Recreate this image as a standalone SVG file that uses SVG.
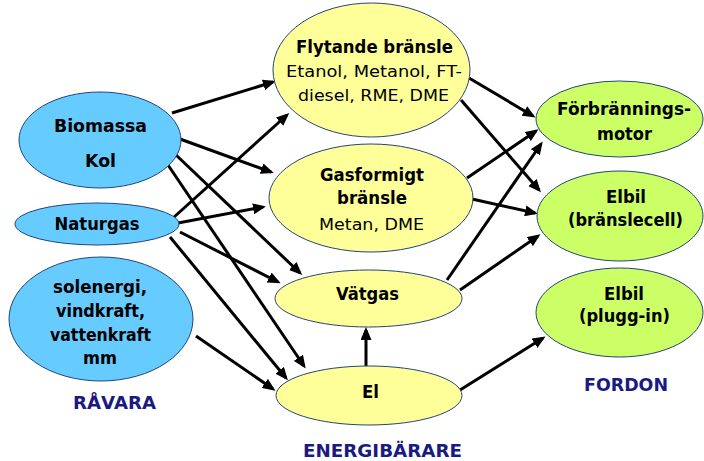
<svg xmlns="http://www.w3.org/2000/svg" width="704" height="461" viewBox="0 0 704 461">
  <style>
    .raw { fill: #66CCFF; stroke: #22447a; stroke-width: 1; }
    .carrier { fill: #FFFF99; stroke: #22447a; stroke-width: 1; }
    .vehicle { fill: #CCFF66; stroke: #22447a; stroke-width: 1; }
    text { font-family: "DejaVu Sans", Verdana, sans-serif; font-size: 16px; text-anchor: middle; fill: #000; }
    .b { font-weight: bold; font-size: 17px; }
    .cap { font-weight: bold; font-size: 17.5px; fill: #1a1a80; }
    .edge line { stroke: #000; stroke-width: 3; marker-end: url(#head); }
  </style>
  <defs>
    <marker id="head" markerUnits="userSpaceOnUse" markerWidth="13" markerHeight="11" viewBox="0 0 13 11" refX="10" refY="5.5" orient="auto">
      <path d="M0,0 L13,5.5 L0,11 Z" fill="#000"/>
    </marker>
  </defs>
  <rect width="704" height="461" fill="#fff"/>

  <!-- connectors -->
  <g id="connectors" class="edge">
    <line x1="172" y1="113" x2="273" y2="82"/>
    <line x1="180" y1="139" x2="271" y2="172"/>
    <line x1="176" y1="155" x2="300" y2="273"/>
    <line x1="168" y1="165" x2="304" y2="366"/>
    <line x1="173" y1="218" x2="287" y2="115"/>
    <line x1="178" y1="223" x2="263" y2="207"/>
    <line x1="180" y1="232" x2="278" y2="282"/>
    <line x1="170" y1="237" x2="286" y2="378"/>
    <line x1="196" y1="336" x2="273" y2="389"/>
    <line x1="366" y1="366" x2="366" y2="330"/>
    <line x1="469" y1="78" x2="533" y2="116"/>
    <line x1="461" y1="100" x2="539" y2="190"/>
    <line x1="467" y1="178" x2="536" y2="131"/>
    <line x1="472" y1="199" x2="535" y2="213"/>
    <line x1="447" y1="280" x2="541" y2="144"/>
    <line x1="460" y1="290" x2="538" y2="236"/>
    <line x1="460" y1="390" x2="543" y2="338"/>
  </g>

  <!-- raw materials -->
  <g id="biomassa">
    <ellipse class="raw" cx="100" cy="140" rx="81" ry="48"/>
    <text class="b" x="100.5" y="132" textLength="93" lengthAdjust="spacingAndGlyphs">Biomassa</text>
    <text class="b" x="100.5" y="167" textLength="31" lengthAdjust="spacingAndGlyphs">Kol</text>
  </g>
  <g id="naturgas">
    <ellipse class="raw" cx="97" cy="224" rx="82" ry="21"/>
    <text class="b" x="97" y="230" textLength="85" lengthAdjust="spacingAndGlyphs">Naturgas</text>
  </g>
  <g id="fornybart">
    <ellipse class="raw" cx="101" cy="319" rx="92" ry="62"/>
    <text class="b" x="100" y="293" textLength="94" lengthAdjust="spacingAndGlyphs">solenergi,</text>
    <text class="b" x="100.5" y="317" textLength="89" lengthAdjust="spacingAndGlyphs">vindkraft,</text>
    <text class="b" x="100.5" y="341" textLength="101" lengthAdjust="spacingAndGlyphs">vattenkraft</text>
    <text class="b" x="100" y="364" textLength="34" lengthAdjust="spacingAndGlyphs">mm</text>
  </g>
  <text class="cap" x="114.5" y="409" textLength="83" lengthAdjust="spacingAndGlyphs">RÅVARA</text>

  <!-- energy carriers -->
  <g id="flytande">
    <ellipse class="carrier" cx="371.5" cy="70" rx="98.5" ry="67"/>
    <text class="b" x="374.5" y="53" textLength="157" lengthAdjust="spacingAndGlyphs">Flytande bränsle</text>
    <text x="374" y="77" textLength="176" lengthAdjust="spacingAndGlyphs">Etanol, Metanol, FT-</text>
    <text x="373.5" y="101" textLength="151" lengthAdjust="spacingAndGlyphs">diesel, RME, DME</text>
  </g>
  <g id="gasformigt">
    <ellipse class="carrier" cx="371" cy="198" rx="102" ry="54"/>
    <text class="b" x="372" y="181" textLength="104" lengthAdjust="spacingAndGlyphs">Gasformigt</text>
    <text class="b" x="372" y="204" textLength="70" lengthAdjust="spacingAndGlyphs">bränsle</text>
    <text x="371.5" y="230" textLength="105" lengthAdjust="spacingAndGlyphs">Metan, DME</text>
  </g>
  <g id="vatgas">
    <ellipse class="carrier" cx="368.5" cy="298.5" rx="93.5" ry="28.5"/>
    <text class="b" x="367.5" y="300" textLength="63" lengthAdjust="spacingAndGlyphs">Vätgas</text>
  </g>
  <g id="el">
    <ellipse class="carrier" cx="369" cy="395.5" rx="93" ry="29.5"/>
    <text class="b" x="370.5" y="398" textLength="17" lengthAdjust="spacingAndGlyphs">El</text>
  </g>
  <text class="cap" x="382.5" y="457" textLength="159" lengthAdjust="spacingAndGlyphs">ENERGIBÄRARE</text>

  <!-- vehicles -->
  <g id="forbranningsmotor">
    <ellipse class="vehicle" cx="619.5" cy="119" rx="83.5" ry="38"/>
    <text class="b" x="624" y="115" textLength="134" lengthAdjust="spacingAndGlyphs">Förbrännings-</text>
    <text class="b" x="624.5" y="140" textLength="55" lengthAdjust="spacingAndGlyphs">motor</text>
  </g>
  <g id="elbil-branslecell">
    <ellipse class="vehicle" cx="620" cy="216" rx="83" ry="45"/>
    <text class="b" x="626" y="203" textLength="40" lengthAdjust="spacingAndGlyphs">Elbil</text>
    <text class="b" x="625.5" y="226" textLength="115" lengthAdjust="spacingAndGlyphs">(bränslecell)</text>
  </g>
  <g id="elbil-plugg-in">
    <ellipse class="vehicle" cx="619.5" cy="312.5" rx="83.5" ry="44.5"/>
    <text class="b" x="624" y="300" textLength="40" lengthAdjust="spacingAndGlyphs">Elbil</text>
    <text class="b" x="624.5" y="322" textLength="91" lengthAdjust="spacingAndGlyphs">(plugg-in)</text>
  </g>
  <text class="cap" x="626" y="391" textLength="84" lengthAdjust="spacingAndGlyphs">FORDON</text>
</svg>
